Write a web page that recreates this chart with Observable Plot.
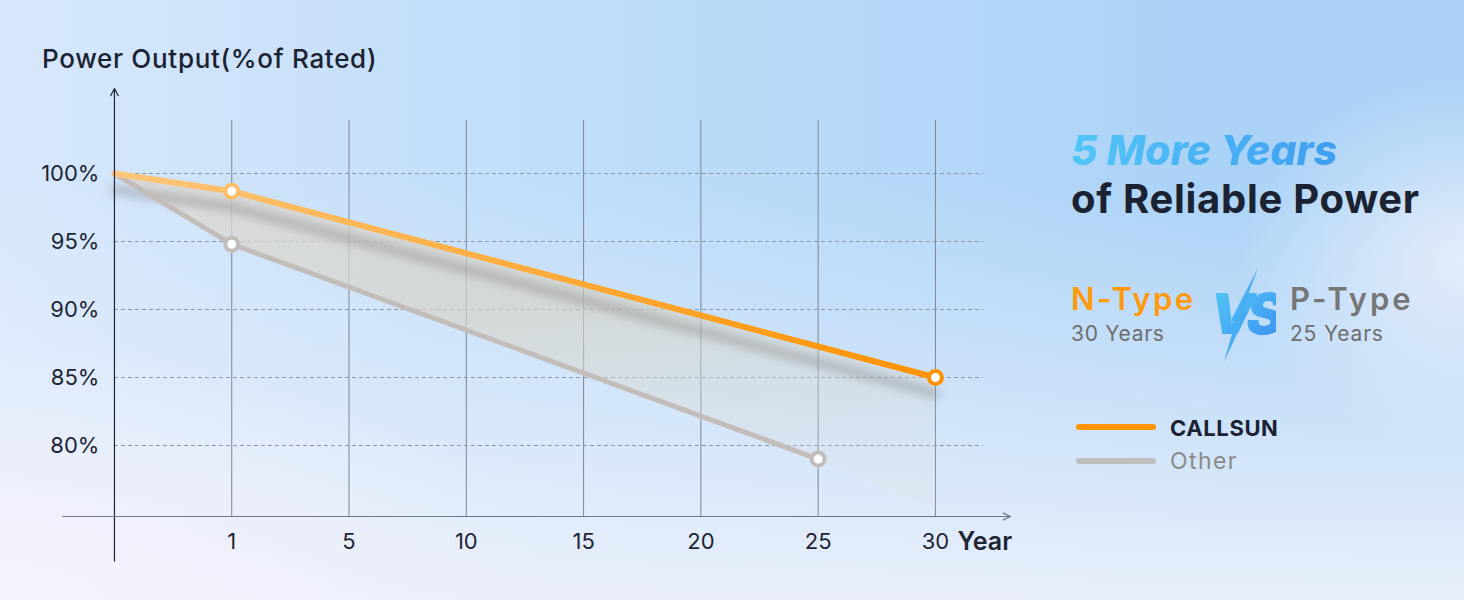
<!DOCTYPE html>
<html>
<head>
<meta charset="utf-8">
<script src="https://cdn.jsdelivr.net/npm/d3@7"></script>
<script src="https://cdn.jsdelivr.net/npm/@observablehq/plot@0.6"></script>
<style>
  html, body { margin: 0; padding: 0; }
  body { width: 1464px; height: 600px; overflow: hidden; font-family: Inter, "Open Sans", sans-serif; }
  #page {
    position: relative; width: 1464px; height: 600px; overflow: hidden;
    background:
      radial-gradient(ellipse 230px 190px at 1464px 260px, rgba(236,240,251,0.85) 0%, rgba(236,240,251,0) 100%),
      radial-gradient(ellipse 560px 260px at 0px 600px, rgba(245,242,252,1) 0%, rgba(245,242,252,0) 100%),
      linear-gradient(180deg, rgba(238,241,251,0) 0%, rgba(238,241,251,0) 30%, rgba(232,239,251,0.55) 70%, rgba(238,241,251,0.92) 100%),
      linear-gradient(90deg, #d8e8fc 0%, #c4dff9 30%, #b6d8f8 60%, #a9d2f6 85%, #a8d1f5 100%);
  }
  #chart { position: absolute; left: 0; top: 0; }
  .abs { position: absolute; line-height: 1; white-space: nowrap; }
  #title { left: 42px; top: 46px; font-size: 26px; letter-spacing: 0.7px; color: #1b2231; font-weight: 500; }
  #h1 { left: 1071px; top: 130px; font-size: 41px; font-weight: 800; font-style: italic;
        background: linear-gradient(90deg, #52c6f7 0%, #3f9ef0 100%);
        -webkit-background-clip: text; background-clip: text; color: transparent; }
  #h2 { left: 1071px; top: 179px; font-size: 40px; letter-spacing: 0.7px; font-weight: 700; color: #1b2231; }
  #ntype { left: 1071px; top: 283px; font-size: 31px; letter-spacing: 2.4px; font-weight: 600; color: #ff9a0d; }
  #nyears { left: 1071px; top: 323px; font-size: 21px; letter-spacing: 0.7px; color: #6e6e6e; }
  #ptype { left: 1290px; top: 283px; font-size: 31px; letter-spacing: 3px; font-weight: 600; color: #767676; }
  #pyears { left: 1290px; top: 323px; font-size: 21px; letter-spacing: 0.8px; color: #6e6e6e; }
  #vs { position: absolute; left: 1196px; top: 262px; }
  .legline { position: absolute; left: 1076px; width: 80px; height: 6px; border-radius: 3px; }
  #leg1 { top: 424px; background: #ff9500; }
  #leg2 { top: 458px; background: #bebebe; }
  #lt1 { left: 1170px; top: 417px; font-size: 22px; letter-spacing: 0.6px; font-weight: 700; color: #1b2231; }
  #lt2 { left: 1170px; top: 450px; font-size: 23px; letter-spacing: 1.4px; color: #8a8a8a; }
</style>
</head>
<body>
<div id="page">
  <div id="chart"></div>
  <div class="abs" id="title">Power Output(%of Rated)</div>
  <div class="abs" id="h1">5 More Years</div>
  <div class="abs" id="h2">of Reliable Power</div>
  <div class="abs" id="ntype">N-Type</div>
  <div class="abs" id="nyears">30 Years</div>
  <svg id="vs" width="80" height="104" viewBox="0 0 80 104">
    <defs>
      <linearGradient id="vsGrad" x1="0" y1="0" x2="1" y2="1">
        <stop offset="0" stop-color="#55cdf8"/>
        <stop offset="1" stop-color="#3a8cef"/>
      </linearGradient>
    </defs>
    <text x="14" y="72" font-family="Inter, sans-serif" font-size="56" font-weight="900" font-style="italic" letter-spacing="-8" fill="url(#vsGrad)">VS</text>
    <polygon points="62,6 45,52 51,50 28,100 40,58 34,60" fill="url(#vsGrad)"/>
  </svg>
  <div class="abs" id="ptype">P-Type</div>
  <div class="abs" id="pyears">25 Years</div>
  <div class="legline" id="leg1"></div>
  <div class="legline" id="leg2"></div>
  <div class="abs" id="lt1">CALLSUN</div>
  <div class="abs" id="lt2">Other</div>
</div>
<script>
// ---- data ----
const years = ["0", "1", "5", "10", "15", "20", "25", "30"];   // equally spaced positions on the x axis
const yTicks = [100, 95, 90, 85, 80];
const callsunYear = ["0", "1", "30"];
const callsunPower = [100, 98.7, 85];
const otherYear = ["0", "1", "25"];
const otherPower = [100, 94.8, 79];

// ---- build ----
const idx = (y) => years.indexOf(y);
const callsun = callsunYear.map((y, i) => ({x: idx(y), y: callsunPower[i]}));
const other = otherYear.map((y, i) => ({x: idx(y), y: otherPower[i]}));
const gridX = d3.range(1, years.length);
const last = years.length - 1;

const yMin = 74.78, yMax = 106.25, gridTop = 103.9;
// shaded band between the two lines (lower edge continues the Other line to the last year)
const o1 = other[other.length - 2], o2 = other[other.length - 1];
const ext = {x: last, y: o2.y + (o2.y - o1.y) / (o2.x - o1.x) * (last - o2.x) - 0.5};
const shade = [...callsun, ext, ...other.slice().reverse()];
const orange = d3.interpolateRgb("#ffc67a", "#ff9200");
const ink = "#1d2535";

const chart = Plot.plot({
  width: 1464, height: 600,
  marginLeft: 62, marginRight: 454, marginTop: 88, marginBottom: 84,
  x: {domain: [-0.443, 7.64], axis: null},
  y: {domain: [yMin, yMax], axis: null},
  style: {background: "transparent", fontFamily: "Inter, sans-serif", overflow: "visible"},
  marks: [
    Plot.ruleX(gridX, {x: d => d, y1: gridTop, y2: yMin, stroke: "#7c8696", strokeWidth: 1}),
    Plot.ruleY(yTicks, {y: d => d, x1: 0, x2: 7.41, stroke: "#8d97a6", strokeWidth: 1, strokeDasharray: "4,3"}),
    Plot.line(shade, {x: "x", y: "y", fill: "url(#shadeGrad)", stroke: "none"}),
    Plot.line(callsun, {x: "x", y: "y", dy: 16, stroke: "#66625a", strokeWidth: 9, strokeOpacity: 0.34, ariaDescription: "shadow"}),
    Plot.line(other, {x: "x", y: "y", stroke: "#c2bdb8", strokeWidth: 5, strokeLinecap: "round"}),
    Plot.line(callsun, {x: "x", y: "y", stroke: "url(#orangeGrad)", strokeWidth: 6, strokeLinecap: "round"}),
    Plot.dot(other.slice(1), {x: "x", y: "y", r: 6.5, fill: "white", stroke: "#c2bdb8", strokeWidth: 4}),
    Plot.dot(callsun.slice(1), {x: "x", y: "y", r: 6.5, fill: "white", stroke: d => orange(d.x / last), strokeWidth: 4}),
    Plot.arrow([0], {x1: 0, x2: 0, y1: 71.5, y2: yMax, stroke: ink, strokeWidth: 1.2, headLength: 10, headAngle: 55}),
    Plot.arrow([0], {x1: -0.443, x2: 7.64, y1: yMin, y2: yMin, stroke: "#6d7787", strokeWidth: 1.2, headLength: 10, headAngle: 50}),
    Plot.text(yTicks, {x: 0, y: d => d, text: d => `${d}%`, textAnchor: "end", dx: -15, fontSize: 22, fill: ink}),
    Plot.text(gridX, {x: d => d, y: yMin, dy: 25, text: d => years[d], fontSize: 22, fill: ink}),
    Plot.text(["Year"], {x: last, y: yMin, dx: 22, dy: 25, text: d => d, textAnchor: "start", fontSize: 25, fontWeight: 600, fill: ink})
  ]
});

const svg = d3.select(chart);
svg.insert("defs", ":first-child").html(`
  <linearGradient id="orangeGrad" x1="0" y1="0" x2="1" y2="0">
    <stop offset="0" stop-color="#ffc67a"/>
    <stop offset="1" stop-color="#ff9200"/>
  </linearGradient>
  <linearGradient id="shadeGrad" x1="0" y1="0" x2="0.3" y2="1">
    <stop offset="0" stop-color="#dcdad4" stop-opacity="0.8"/>
    <stop offset="0.5" stop-color="#d6d4c8" stop-opacity="0.7"/>
    <stop offset="1" stop-color="#dedcd2" stop-opacity="0.18"/>
  </linearGradient>
  <filter id="blur" x="-10%" y="-50%" width="120%" height="200%">
    <feGaussianBlur stdDeviation="5"/>
  </filter>
`);
svg.select('g[aria-description="shadow"]').attr("filter", "url(#blur)");
document.getElementById("chart").appendChild(chart);
</script>
</body>
</html>
